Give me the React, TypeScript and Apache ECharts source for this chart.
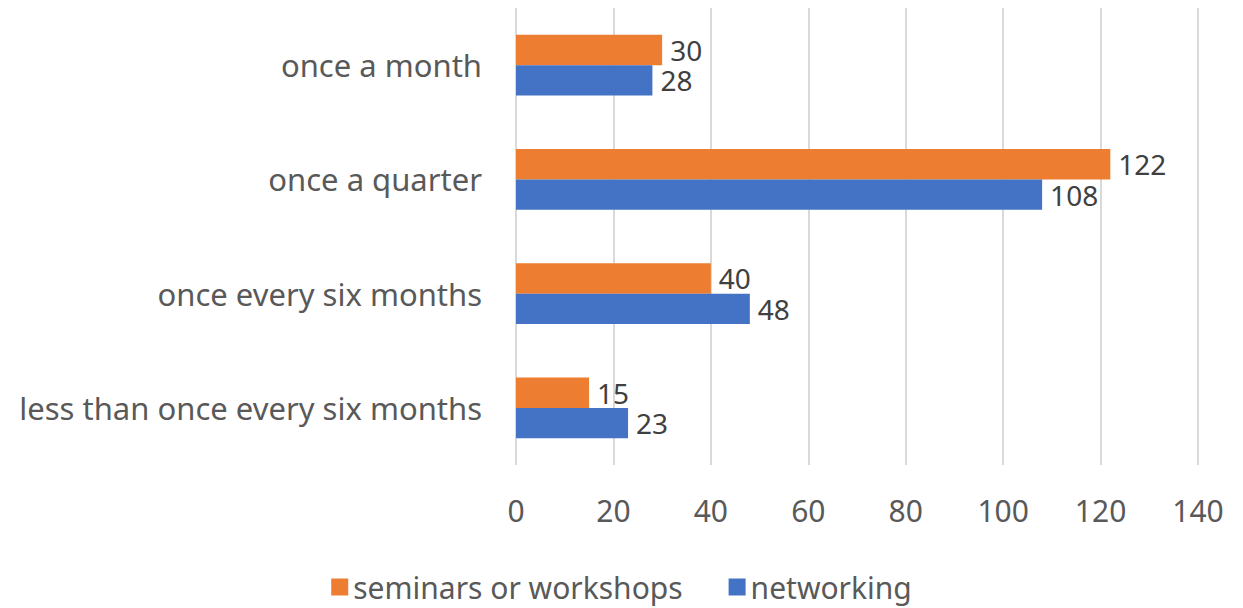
import React, { useEffect, useRef } from "react";
import * as echarts from "echarts";

const categories = [
  "less than once every six months",
  "once every six months",
  "once a quarter",
  "once a month",
];
const seminars = [15, 40, 122, 30];
const networking = [23, 48, 108, 28];
const xTicks = { min: 0, max: 140, interval: 20 };

const FONT = "'Noto Sans', 'Open Sans', sans-serif";

export default function App() {
  const ref = useRef<HTMLDivElement>(null);
  useEffect(() => {
    if (!ref.current) return;
    const chart = echarts.init(ref.current, null, { renderer: "svg" });
    chart.setOption({
      animation: false,
      textStyle: { fontFamily: FONT },
      grid: { left: 516, right: 45, top: 8, bottom: 143, containLabel: false },
      legend: {
        data: ["seminars or workshops", "networking"],
        top: 567,
        left: "center",
        itemWidth: 17,
        itemHeight: 17,
        itemGap: 46,
        icon: "rect",
        textStyle: { fontSize: 30, lineHeight: 30, color: "#595959", fontFamily: FONT },
      },
      xAxis: {
        type: "value",
        min: xTicks.min,
        max: xTicks.max,
        interval: xTicks.interval,
        axisLine: { show: false },
        axisTick: { show: false },
        splitLine: { lineStyle: { color: "#d9d9d9", width: 2 } },
        axisLabel: { fontSize: 30, color: "#595959", margin: 30, fontFamily: FONT },
      },
      yAxis: {
        type: "category",
        data: categories,
        axisLine: { show: false },
        axisTick: { show: false },
        axisLabel: { fontSize: 31, color: "#595959", margin: 34, fontFamily: FONT },
      },
      series: [
        {
          name: "seminars or workshops",
          type: "bar",
          data: seminars,
          itemStyle: { color: "#ED7D31" },
          barGap: "0%",
          barCategoryGap: "47%",
          label: { show: true, position: "right", fontSize: 28, lineHeight: 26, color: "#404040", distance: 8, fontFamily: FONT },
        },
        {
          name: "networking",
          type: "bar",
          data: networking,
          itemStyle: { color: "#4472C4" },
          barGap: "0%",
          barCategoryGap: "47%",
          label: { show: true, position: "right", fontSize: 28, lineHeight: 26, color: "#404040", distance: 8, fontFamily: FONT },
        },
      ],
    });
    return () => chart.dispose();
  }, []);
  return (
    <div
      ref={ref}
      style={{ position: "absolute", left: 0, top: 0, width: 1243, height: 608 }}
    />
  );
}
